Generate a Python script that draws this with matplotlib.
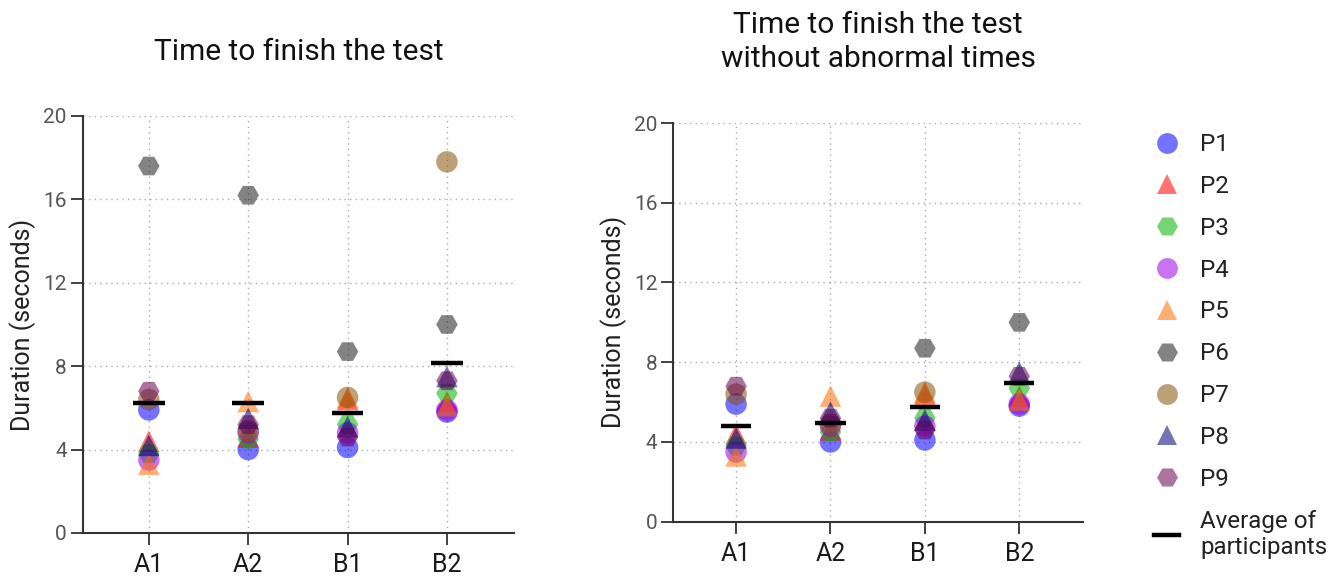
import numpy as np
import matplotlib
matplotlib.use("Agg")
import matplotlib.pyplot as plt
from matplotlib.lines import Line2D

plt.rcParams['font.family'] = ['Roboto', 'DejaVu Sans']

conditions = ["A1", "A2", "B1", "B2"]
participants = ["P1", "P2", "P3", "P4", "P5", "P6", "P7", "P8", "P9"]

# Duration (seconds) per participant for A1, A2, B1, B2
p1 = [5.9, 4.0, 4.1, 5.8]
p2 = [4.4, 4.6, 6.4, 6.3]
p3 = [3.8, 4.5, 5.2, 6.7]
p4 = [3.5, 4.8, 4.8, 5.9]
p5 = [3.3, 6.3, 6.5, 6.1]
p6 = [17.6, 16.2, 8.7, 10.0]
p7 = [6.4, 4.9, 6.5, 17.8]
p8 = [4.2, 5.5, 5.1, 7.5]
p9 = [6.8, 5.2, 4.6, 7.3]

# Abnormal times left out of the second panel
abnormal = {"A1": ["P6"], "A2": ["P6"], "B2": ["P7"]}

series = [p1, p2, p3, p4, p5, p6, p7, p8, p9]
markers = ["o", "^", "H", "o", "^", "H", "o", "^", "H"]
colors = ["#0000ff", "#ff0000", "#00b400", "#a000e6", "#ff6e00",
          "#1e1e1e", "#89520a", "#000078", "#640052"]
ALPHA = 0.55

data_all = np.array(series, dtype=float)
data_clean = data_all.copy()
for cond, who in abnormal.items():
    for p in who:
        data_clean[participants.index(p), conditions.index(cond)] = np.nan

fig = plt.figure(figsize=(13.41, 5.77), dpi=100)
ax1 = fig.add_axes([0.0617, 0.0763, 0.3216, 0.7227])
ax2 = fig.add_axes([0.5021, 0.0958, 0.3055, 0.6910])


def draw(ax, data, title):
    x = np.arange(1, len(conditions) + 1)
    for i, name in enumerate(participants):
        ax.scatter(x, data[i], s=240, marker=markers[i], color=colors[i],
                   alpha=ALPHA, edgecolors="none", zorder=3, label=name)
    means = np.nanmean(data, axis=0)
    ax.hlines(means, x - 0.16, x + 0.16, color="black", lw=3.2, zorder=6)
    ax.set_xlim(0.335, 4.675)
    ax.set_ylim(0, 20)
    ax.set_yticks([0, 4, 8, 12, 16, 20])
    ax.set_xticks(x)
    ax.set_xticklabels(conditions, fontsize=18, color="#1a1a1a")
    ax.tick_params(axis="y", labelsize=15, labelcolor="#555555",
                   length=8.5, width=1.3, color="#333333", pad=3)
    ax.tick_params(axis="x", length=8.5, width=1.3, color="#333333", pad=6)
    ax.grid(True, linestyle=(0, (1, 3)), color="#aaaaaa", lw=1.0, zorder=0)
    ax.set_axisbelow(True)
    for s in ("top", "right"):
        ax.spines[s].set_visible(False)
    for s in ("left", "bottom"):
        ax.spines[s].set_color("#333333")
        ax.spines[s].set_linewidth(1.5)
    ax.set_ylabel("Duration (seconds)", fontsize=18, color="#222222", labelpad=5)
    ax.set_title(title, fontsize=21.5, color="#111111", pad=40, linespacing=1.3)


draw(ax1, data_all, "Time to finish the test")
draw(ax2, data_clean, "Time to finish the test\nwithout abnormal times")

handles = [Line2D([], [], linestyle="none", marker=markers[i], markersize=15,
                  color=colors[i], alpha=ALPHA, markeredgewidth=0)
           for i in range(len(participants))]
handles.append(Line2D([], [], color="black", lw=3.2))
labels = participants + ["Average of\nparticipants"]
fig.legend(handles, labels, loc="upper left",
           bbox_to_anchor=(1154 / 1341, 1 - 133 / 577), frameon=False,
           fontsize=17.4, labelspacing=0.78, handlelength=1.05,
           handletextpad=0.85, borderaxespad=0, borderpad=0,
           labelcolor="#222222")

fig.savefig("out.png", dpi=100)
